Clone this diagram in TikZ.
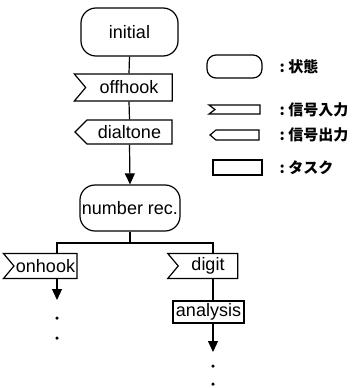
\documentclass[tikz,border=0pt]{standalone}
\usepackage{fontspec}
\setmainfont{Liberation Sans}
\newfontfamily\jpfont{Noto Sans CJK JP}
\usetikzlibrary{positioning,arrows.meta,shapes.symbols}

\begin{document}
\begin{tikzpicture}[
    x=1pt, y=-1pt,
    >={Triangle[width=10pt,length=11pt]},
    line width=1.2pt,
    box/.style={draw, font=\fontsize{18}{18}\selectfont, inner xsep=2pt, inner ysep=0pt},
    statebox/.style={box, rounded corners=15pt, minimum width=97pt, minimum height=48pt},
    inbox/.style={box, signal, signal from=west, signal to=nowhere, signal pointer angle=100, minimum height=27pt},
    outbox/.style={box, signal, signal to=west, signal pointer angle=90, minimum height=24pt},
    taskbox/.style={box, minimum height=22pt},
    flow/.style={->},
    dot/.style={circle, fill, inner sep=0pt, minimum size=3.5pt},
    legend/.style={font=\jpfont\bfseries\fontsize{15}{16}\selectfont, anchor=west, inner sep=0pt},
]
\useasboundingbox (0,0) rectangle (363,388);

% main chain
\node[statebox] (initial) at (129.5, 32) {initial};
\node[inbox, minimum width=98pt] (offhook) at (129, 87.5) {offhook};
\node[outbox, minimum width=97pt] (dialtone) at (129.5, 132) {dialtone};
\node[statebox, minimum width=96pt, minimum height=46pt] (numrec) at (130, 208) {number rec.};

\draw (initial.south) -- (offhook.north);
\draw (offhook.south) -- (dialtone.north);
\draw[flow] (dialtone.south) -- (numrec.north);

% branches
\coordinate (fork) at (130, 243);
\coordinate (lbr) at (57, 243);
\coordinate (rbr) at (213, 243);

\node[inbox, minimum width=73pt, minimum height=25pt] (onhook) at (45.5, 266) {onhook};
\node[inbox, minimum width=70pt, minimum height=25pt] (digit) at (208, 266) {digit};
\node[taskbox, minimum width=71pt] (analysis) at (208.5, 312) {analysis};

\draw (numrec.south) -- (fork);
\draw (lbr |- onhook.north) -- (lbr) -- (rbr) -- (rbr |- digit.north);
\draw (rbr |- digit.south) -- (rbr |- analysis.north);

\coordinate (lend) at (57, 300);
\coordinate (rend) at (213, 352);
\draw[flow] (lbr |- onhook.south) -- (lend);
\draw[flow] (rbr |- analysis.south) -- (rend);

\node[dot] (ldot1) at (57, 318) {};
\node[dot] (ldot2) at (57, 338) {};
\node[dot] (rdot1) at (213, 366) {};
\node[dot] (rdot2) at (213, 384) {};

% legend
\node[statebox, minimum width=55pt, minimum height=23pt, rounded corners=9pt] (lgstate) at (234.5, 66.5) {};
\node[inbox, minimum width=51pt, minimum height=9pt, signal pointer angle=74] (lgin) at (237.5, 109.5) {};
\node[outbox, minimum width=49pt, minimum height=10pt, signal pointer angle=80] (lgout) at (237.5, 135) {};
\node[taskbox, minimum width=49pt, minimum height=15pt] (lgtask) at (237.5, 167.5) {};

\node[legend] at (279, 66.5) {:\ 状態};
\node[legend] at (279, 109.5) {:\ 信号入力};
\node[legend] at (279, 135) {:\ 信号出力};
\node[legend] at (279, 167.5) {:\ タスク};

\end{tikzpicture}
\end{document}
